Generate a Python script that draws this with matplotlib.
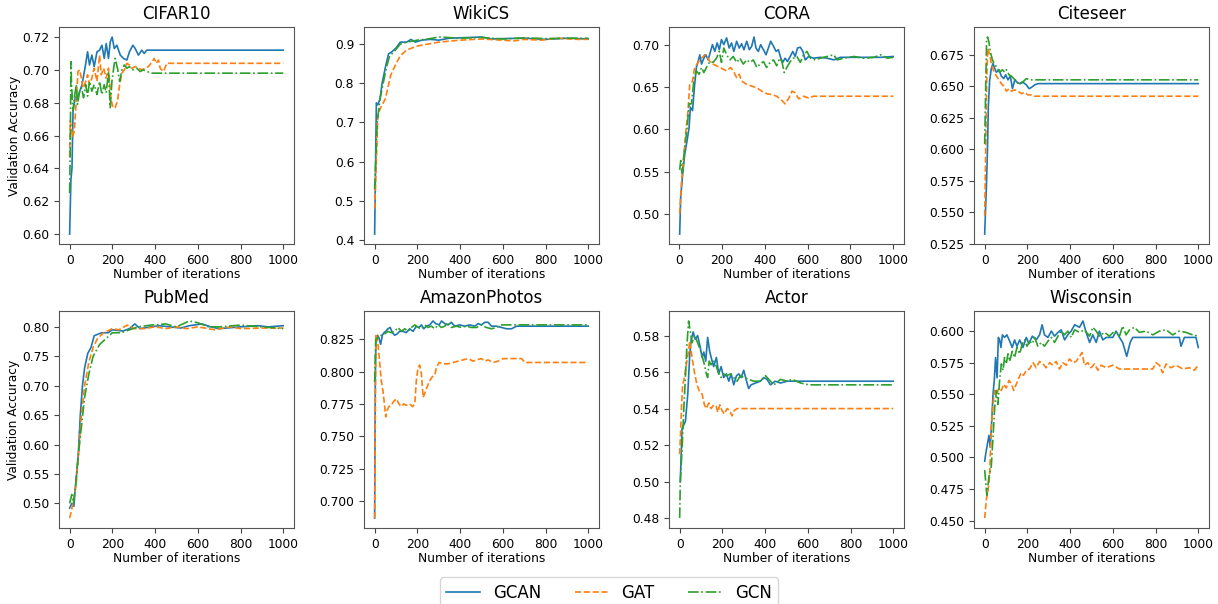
import numpy as np
import matplotlib
matplotlib.use("Agg")
import matplotlib.pyplot as plt
from matplotlib.ticker import MultipleLocator

datasets = ["CIFAR10", "WikiCS", "CORA", "Citeseer",
            "PubMed", "AmazonPhotos", "Actor", "Wisconsin"]
models = ["GCAN", "GAT", "GCN"]
ytick_steps = [0.02, 0.1, 0.05, 0.025, 0.05, 0.025, 0.02, 0.025]

# ---- CIFAR10 ----
cifar_gcan_it = [0, 6, 11, 16, 26, 42, 58, 73, 84, 93, 104, 115, 128, 140, 151, 162, 171, 182, 190, 199, 209, 221, 237, 252, 268, 280, 296, 307, 322, 338, 349, 361, 377, 1000]
cifar_gcan_acc = [0.600, 0.633, 0.640, 0.675, 0.683, 0.685, 0.691, 0.702, 0.711, 0.703, 0.709, 0.702, 0.711, 0.712, 0.715, 0.707, 0.716, 0.707, 0.717, 0.720, 0.713, 0.715, 0.709, 0.707, 0.706, 0.711, 0.715, 0.713, 0.709, 0.712, 0.710, 0.712, 0.712, 0.712]
cifar_gat_it = [0, 3, 8, 14, 22, 31, 39, 47, 55, 62, 73, 84, 93, 104, 115, 128, 140, 148, 159, 171, 182, 193, 202, 213, 224, 234, 245, 256, 268, 280, 291, 307, 322, 338, 354, 369, 386, 396, 405, 416, 424, 439, 455, 470, 1000]
cifar_gat_acc = [0.647, 0.669, 0.665, 0.659, 0.663, 0.681, 0.699, 0.700, 0.695, 0.689, 0.692, 0.697, 0.691, 0.695, 0.701, 0.693, 0.709, 0.697, 0.701, 0.695, 0.701, 0.683, 0.677, 0.677, 0.681, 0.691, 0.698, 0.700, 0.704, 0.703, 0.701, 0.702, 0.701, 0.700, 0.701, 0.702, 0.705, 0.707, 0.704, 0.706, 0.701, 0.699, 0.704, 0.704, 0.704]
cifar_gcn_it = [0, 3, 6, 9, 16, 22, 31, 37, 47, 56, 65, 75, 84, 93, 104, 115, 128, 140, 151, 162, 171, 182, 190, 198, 206, 213, 224, 234, 245, 256, 268, 280, 296, 315, 330, 346, 361, 385, 1000]
cifar_gcn_acc = [0.625, 0.653, 0.705, 0.691, 0.675, 0.683, 0.691, 0.679, 0.687, 0.689, 0.683, 0.691, 0.684, 0.693, 0.687, 0.691, 0.685, 0.693, 0.685, 0.691, 0.686, 0.699, 0.677, 0.693, 0.701, 0.707, 0.701, 0.693, 0.700, 0.703, 0.701, 0.702, 0.700, 0.701, 0.699, 0.700, 0.699, 0.698, 0.698]

# ---- WikiCS ----
wiki_gcan_it = [0, 8, 15, 25, 35, 50, 65, 80, 100, 120, 150, 170, 190, 220, 260, 300, 350, 450, 500, 550, 600, 700, 800, 900, 1000]
wiki_gcan_acc = [0.415, 0.750, 0.745, 0.760, 0.800, 0.840, 0.875, 0.880, 0.890, 0.905, 0.905, 0.912, 0.905, 0.910, 0.912, 0.910, 0.915, 0.917, 0.918, 0.913, 0.914, 0.915, 0.912, 0.915, 0.913]
wiki_gat_it = [0, 8, 15, 30, 50, 75, 100, 120, 150, 200, 250, 300, 400, 500, 600, 650, 700, 780, 850, 950, 1000]
wiki_gat_acc = [0.480, 0.600, 0.720, 0.740, 0.760, 0.820, 0.850, 0.870, 0.885, 0.895, 0.900, 0.905, 0.910, 0.913, 0.910, 0.908, 0.912, 0.910, 0.915, 0.912, 0.912]
wiki_gcn_it = [0, 12, 25, 40, 55, 70, 90, 120, 150, 200, 250, 300, 400, 500, 600, 700, 800, 900, 1000]
wiki_gcn_acc = [0.530, 0.700, 0.760, 0.800, 0.840, 0.870, 0.880, 0.900, 0.905, 0.910, 0.913, 0.918, 0.915, 0.917, 0.913, 0.916, 0.914, 0.915, 0.915]

# ---- CORA ----
cora_gcan_it = [3, 8, 16, 27, 38, 47, 53, 63, 73, 81, 89, 97, 105, 116, 125, 136, 147, 156, 167, 178, 188, 198, 209, 222, 234, 245, 256, 269, 281, 292, 303, 316, 328, 339, 350, 359, 370, 381, 394, 406, 417, 428, 441, 453, 464, 475, 484, 495, 506, 519, 531, 542, 553, 566, 578, 589, 605, 628, 659, 691, 722, 753, 816, 878, 941, 1000]
cora_gcan_acc = [0.476, 0.520, 0.544, 0.571, 0.587, 0.602, 0.626, 0.622, 0.653, 0.673, 0.680, 0.688, 0.677, 0.684, 0.688, 0.682, 0.692, 0.700, 0.692, 0.702, 0.694, 0.706, 0.700, 0.708, 0.696, 0.702, 0.692, 0.704, 0.696, 0.701, 0.694, 0.704, 0.694, 0.698, 0.709, 0.696, 0.692, 0.700, 0.694, 0.688, 0.696, 0.704, 0.698, 0.692, 0.694, 0.684, 0.679, 0.684, 0.680, 0.686, 0.692, 0.686, 0.696, 0.697, 0.692, 0.682, 0.686, 0.684, 0.685, 0.684, 0.682, 0.685, 0.685, 0.685, 0.685, 0.686]
cora_gat_it = [3, 11, 22, 31, 42, 50, 63, 73, 89, 105, 120, 131, 144, 159, 175, 191, 206, 222, 241, 253, 269, 281, 292, 316, 339, 363, 386, 409, 433, 456, 480, 495, 511, 527, 542, 558, 581, 605, 628, 1000]
cora_gat_acc = [0.500, 0.536, 0.567, 0.595, 0.622, 0.653, 0.657, 0.673, 0.679, 0.684, 0.688, 0.686, 0.680, 0.677, 0.675, 0.673, 0.671, 0.669, 0.673, 0.669, 0.661, 0.665, 0.657, 0.653, 0.651, 0.649, 0.645, 0.642, 0.641, 0.639, 0.634, 0.630, 0.636, 0.645, 0.643, 0.636, 0.639, 0.637, 0.639, 0.639]
cora_gcn_it = [3, 8, 14, 22, 31, 38, 47, 58, 69, 81, 94, 105, 116, 128, 144, 159, 175, 188, 198, 209, 222, 238, 253, 269, 284, 300, 316, 331, 347, 363, 378, 394, 409, 425, 441, 456, 469, 480, 491, 503, 519, 534, 550, 566, 581, 597, 613, 636, 659, 691, 722, 738, 769, 816, 863, 909, 941, 972, 1000]
cora_gcn_acc = [0.552, 0.563, 0.548, 0.567, 0.587, 0.602, 0.630, 0.630, 0.657, 0.669, 0.665, 0.673, 0.667, 0.673, 0.680, 0.679, 0.684, 0.692, 0.679, 0.696, 0.688, 0.682, 0.686, 0.679, 0.684, 0.677, 0.682, 0.679, 0.682, 0.673, 0.677, 0.680, 0.673, 0.679, 0.682, 0.675, 0.684, 0.680, 0.667, 0.673, 0.680, 0.684, 0.686, 0.679, 0.688, 0.692, 0.684, 0.682, 0.684, 0.686, 0.688, 0.682, 0.684, 0.686, 0.684, 0.685, 0.688, 0.684, 0.685]

# ---- Citeseer ----
cite_gcan_it = [0, 8, 13, 17, 23, 31, 39, 47, 55, 67, 78, 89, 98, 109, 120, 130, 141, 152, 164, 180, 195, 208, 219, 234, 250, 1000]
cite_gcan_acc = [0.5325, 0.570, 0.599, 0.633, 0.654, 0.664, 0.668, 0.664, 0.661, 0.663, 0.658, 0.656, 0.659, 0.655, 0.658, 0.648, 0.655, 0.653, 0.652, 0.653, 0.651, 0.648, 0.649, 0.651, 0.652, 0.652]
cite_gat_it = [0, 5, 9, 14, 20, 28, 36, 44, 55, 67, 78, 89, 102, 114, 125, 141, 156, 172, 188, 203, 219, 234, 1000]
cite_gat_acc = [0.547, 0.602, 0.651, 0.680, 0.677, 0.671, 0.665, 0.661, 0.658, 0.655, 0.652, 0.650, 0.646, 0.648, 0.646, 0.647, 0.646, 0.644, 0.645, 0.643, 0.643, 0.642, 0.642]
cite_gcn_it = [0, 5, 9, 14, 20, 27, 36, 47, 58, 70, 83, 94, 102, 114, 125, 136, 148, 161, 172, 183, 195, 211, 227, 1000]
cite_gcn_acc = [0.604, 0.651, 0.688, 0.689, 0.685, 0.677, 0.671, 0.667, 0.665, 0.661, 0.663, 0.661, 0.663, 0.659, 0.658, 0.656, 0.654, 0.651, 0.653, 0.654, 0.656, 0.655, 0.655, 0.655]

# ---- PubMed ----
pub_gcan_it = [0, 10, 20, 25, 40, 50, 60, 70, 85, 100, 115, 150, 180, 200, 250, 280, 305, 330, 380, 420, 470, 520, 560, 620, 660, 700, 800, 880, 930, 1000]
pub_gcan_acc = [0.492, 0.500, 0.495, 0.520, 0.580, 0.650, 0.700, 0.730, 0.755, 0.765, 0.785, 0.790, 0.790, 0.795, 0.793, 0.797, 0.805, 0.797, 0.800, 0.802, 0.800, 0.798, 0.802, 0.805, 0.800, 0.797, 0.800, 0.802, 0.800, 0.802]
pub_gat_it = [0, 10, 20, 30, 45, 55, 70, 90, 110, 130, 160, 200, 230, 270, 300, 350, 400, 450, 500, 550, 600, 680, 750, 800, 900, 1000]
pub_gat_acc = [0.475, 0.490, 0.510, 0.530, 0.600, 0.650, 0.700, 0.740, 0.765, 0.780, 0.790, 0.797, 0.795, 0.803, 0.797, 0.797, 0.800, 0.797, 0.800, 0.797, 0.800, 0.795, 0.800, 0.797, 0.798, 0.798]
pub_gcn_it = [0, 10, 18, 28, 40, 55, 70, 90, 110, 140, 170, 200, 240, 280, 320, 380, 450, 500, 560, 600, 650, 700, 800, 900, 1000]
pub_gcn_acc = [0.500, 0.515, 0.500, 0.530, 0.580, 0.630, 0.680, 0.720, 0.750, 0.770, 0.780, 0.790, 0.790, 0.795, 0.800, 0.803, 0.805, 0.800, 0.810, 0.807, 0.800, 0.800, 0.803, 0.800, 0.797]

# ---- AmazonPhotos ----
amz_gcan_it = [0, 3, 6, 13, 20, 28, 36, 44, 52, 62, 73, 83, 94, 105, 117, 133, 148, 164, 180, 195, 208, 219, 230, 242, 258, 273, 286, 302, 313, 328, 344, 359, 375, 398, 422, 445, 469, 484, 500, 516, 531, 547, 570, 594, 617, 641, 664, 1000]
amz_gcan_acc = [0.687, 0.793, 0.824, 0.828, 0.826, 0.821, 0.828, 0.830, 0.831, 0.833, 0.834, 0.830, 0.828, 0.829, 0.831, 0.831, 0.830, 0.833, 0.831, 0.835, 0.834, 0.836, 0.833, 0.835, 0.836, 0.839, 0.837, 0.836, 0.839, 0.837, 0.836, 0.838, 0.835, 0.836, 0.835, 0.836, 0.835, 0.837, 0.836, 0.838, 0.838, 0.835, 0.835, 0.834, 0.833, 0.833, 0.835, 0.835]
amz_gat_it = [0, 3, 6, 11, 17, 23, 31, 39, 47, 52, 58, 67, 78, 89, 102, 114, 125, 136, 148, 164, 177, 188, 195, 203, 211, 219, 227, 234, 245, 258, 270, 281, 289, 302, 320, 344, 367, 391, 414, 438, 461, 477, 500, 516, 531, 555, 578, 602, 633, 664, 688, 703, 1000]
amz_gat_acc = [0.687, 0.768, 0.829, 0.826, 0.819, 0.808, 0.793, 0.785, 0.773, 0.765, 0.770, 0.773, 0.774, 0.777, 0.779, 0.775, 0.773, 0.775, 0.774, 0.775, 0.773, 0.775, 0.793, 0.803, 0.805, 0.798, 0.780, 0.783, 0.788, 0.793, 0.796, 0.797, 0.803, 0.807, 0.806, 0.806, 0.807, 0.808, 0.809, 0.810, 0.808, 0.809, 0.810, 0.808, 0.809, 0.807, 0.808, 0.810, 0.810, 0.810, 0.810, 0.807, 0.807]
amz_gcn_it = [0, 5, 16, 31, 47, 62, 78, 94, 109, 125, 141, 156, 172, 188, 203, 219, 234, 250, 266, 281, 297, 313, 328, 344, 359, 383, 406, 430, 453, 477, 500, 523, 547, 570, 594, 617, 1000]
amz_gcn_acc = [0.792, 0.825, 0.826, 0.828, 0.829, 0.831, 0.830, 0.831, 0.834, 0.831, 0.833, 0.831, 0.834, 0.836, 0.834, 0.833, 0.836, 0.834, 0.835, 0.833, 0.836, 0.834, 0.835, 0.838, 0.834, 0.835, 0.834, 0.835, 0.834, 0.834, 0.836, 0.834, 0.833, 0.834, 0.836, 0.836, 0.836]

# ---- Actor ----
actor_gcan_it = [3, 11, 19, 27, 38, 47, 53, 63, 73, 84, 94, 105, 113, 122, 131, 141, 152, 159, 172, 183, 194, 206, 219, 230, 241, 253, 266, 277, 288, 300, 313, 323, 334, 355, 378, 394, 409, 425, 447, 472, 503, 1000]
actor_gcan_acc = [0.500, 0.529, 0.531, 0.533, 0.548, 0.569, 0.577, 0.582, 0.578, 0.580, 0.575, 0.568, 0.571, 0.566, 0.579, 0.571, 0.566, 0.563, 0.568, 0.559, 0.563, 0.557, 0.559, 0.555, 0.559, 0.553, 0.558, 0.559, 0.557, 0.561, 0.555, 0.551, 0.553, 0.554, 0.555, 0.557, 0.556, 0.553, 0.555, 0.554, 0.555, 0.555]
actor_gat_it = [0, 5, 9, 14, 22, 31, 41, 47, 58, 69, 81, 94, 105, 116, 125, 136, 147, 159, 172, 178, 188, 198, 209, 222, 234, 245, 256, 269, 1000]
actor_gat_acc = [0.515, 0.529, 0.542, 0.553, 0.557, 0.564, 0.571, 0.577, 0.568, 0.560, 0.553, 0.549, 0.548, 0.542, 0.540, 0.543, 0.540, 0.542, 0.541, 0.538, 0.542, 0.539, 0.537, 0.540, 0.539, 0.536, 0.539, 0.540, 0.540]
actor_gcn_it = [0, 3, 11, 19, 27, 34, 42, 50, 58, 69, 81, 94, 105, 116, 125, 131, 138, 147, 159, 172, 183, 194, 206, 219, 238, 253, 269, 284, 300, 323, 347, 378, 402, 425, 441, 472, 503, 527, 566, 605, 628, 1000]
actor_gcn_acc = [0.480, 0.500, 0.517, 0.539, 0.557, 0.575, 0.588, 0.582, 0.576, 0.580, 0.577, 0.573, 0.569, 0.564, 0.559, 0.557, 0.566, 0.564, 0.566, 0.563, 0.559, 0.557, 0.559, 0.558, 0.559, 0.557, 0.555, 0.558, 0.557, 0.556, 0.555, 0.555, 0.558, 0.555, 0.553, 0.556, 0.555, 0.556, 0.554, 0.553, 0.553, 0.553]

# ---- Wisconsin ----
wisc_gcan_it = [0, 5, 20, 26, 33, 39, 45, 51, 58, 64, 70, 76, 83, 93, 104, 117, 129, 140, 151, 164, 179, 195, 207, 223, 241, 257, 269, 280, 296, 312, 327, 343, 358, 374, 389, 405, 421, 444, 460, 475, 491, 506, 522, 537, 553, 569, 600, 615, 631, 646, 665, 681, 693, 911, 919, 935, 989, 1000]
wisc_gcan_acc = [0.497, 0.503, 0.5175, 0.508, 0.529, 0.550, 0.561, 0.579, 0.563, 0.595, 0.593, 0.587, 0.597, 0.595, 0.597, 0.592, 0.587, 0.593, 0.588, 0.593, 0.587, 0.595, 0.590, 0.596, 0.593, 0.597, 0.605, 0.597, 0.595, 0.600, 0.596, 0.599, 0.601, 0.593, 0.597, 0.600, 0.605, 0.603, 0.608, 0.599, 0.591, 0.597, 0.591, 0.600, 0.593, 0.595, 0.595, 0.600, 0.595, 0.591, 0.580, 0.591, 0.595, 0.595, 0.588, 0.595, 0.595, 0.587]
wisc_gat_it = [0, 8, 16, 23, 31, 39, 47, 55, 67, 78, 89, 101, 114, 125, 136, 148, 160, 171, 182, 195, 210, 226, 241, 257, 273, 288, 304, 319, 335, 350, 366, 382, 397, 413, 428, 444, 456, 467, 483, 498, 514, 530, 545, 569, 600, 631, 662, 787, 802, 818, 833, 849, 872, 896, 927, 958, 981, 1000]
wisc_gat_acc = [0.452, 0.467, 0.474, 0.485, 0.524, 0.542, 0.553, 0.550, 0.555, 0.553, 0.558, 0.555, 0.561, 0.558, 0.553, 0.558, 0.563, 0.567, 0.565, 0.569, 0.570, 0.575, 0.571, 0.576, 0.574, 0.571, 0.575, 0.573, 0.576, 0.570, 0.575, 0.573, 0.578, 0.575, 0.576, 0.580, 0.583, 0.573, 0.575, 0.571, 0.574, 0.569, 0.573, 0.571, 0.573, 0.570, 0.570, 0.570, 0.575, 0.573, 0.567, 0.574, 0.571, 0.573, 0.570, 0.571, 0.569, 0.573]
wisc_gcn_it = [0, 10, 20, 31, 39, 47, 55, 62, 70, 78, 86, 93, 101, 109, 117, 129, 140, 151, 164, 176, 187, 198, 210, 223, 234, 249, 265, 280, 296, 312, 327, 343, 358, 374, 389, 405, 421, 444, 467, 491, 506, 522, 537, 561, 584, 607, 631, 646, 662, 678, 701, 724, 755, 787, 818, 849, 880, 911, 942, 974, 1000]
wisc_gcn_acc = [0.490, 0.470, 0.485, 0.493, 0.516, 0.540, 0.553, 0.542, 0.561, 0.574, 0.569, 0.579, 0.574, 0.582, 0.576, 0.584, 0.579, 0.587, 0.582, 0.590, 0.593, 0.588, 0.592, 0.590, 0.595, 0.588, 0.591, 0.588, 0.592, 0.595, 0.591, 0.596, 0.600, 0.597, 0.600, 0.595, 0.601, 0.599, 0.601, 0.596, 0.603, 0.600, 0.596, 0.599, 0.596, 0.600, 0.596, 0.604, 0.597, 0.601, 0.603, 0.599, 0.600, 0.597, 0.600, 0.601, 0.597, 0.600, 0.599, 0.597, 0.596]

series = [
    [(cifar_gcan_it, cifar_gcan_acc), (cifar_gat_it, cifar_gat_acc), (cifar_gcn_it, cifar_gcn_acc)],
    [(wiki_gcan_it, wiki_gcan_acc), (wiki_gat_it, wiki_gat_acc), (wiki_gcn_it, wiki_gcn_acc)],
    [(cora_gcan_it, cora_gcan_acc), (cora_gat_it, cora_gat_acc), (cora_gcn_it, cora_gcn_acc)],
    [(cite_gcan_it, cite_gcan_acc), (cite_gat_it, cite_gat_acc), (cite_gcn_it, cite_gcn_acc)],
    [(pub_gcan_it, pub_gcan_acc), (pub_gat_it, pub_gat_acc), (pub_gcn_it, pub_gcn_acc)],
    [(amz_gcan_it, amz_gcan_acc), (amz_gat_it, amz_gat_acc), (amz_gcn_it, amz_gcn_acc)],
    [(actor_gcan_it, actor_gcan_acc), (actor_gat_it, actor_gat_acc), (actor_gcn_it, actor_gcn_acc)],
    [(wisc_gcan_it, wisc_gcan_acc), (wisc_gat_it, wisc_gat_acc), (wisc_gcn_it, wisc_gcn_acc)],
]

colors = ["#1f77b4", "#ff7f0e", "#2ca02c"]
styles = ["-", "--", "-."]

fig, axes = plt.subplots(2, 4, figsize=(12.18, 6.04), dpi=100)
fig.subplots_adjust(left=0.0484, right=0.9926, top=0.955, bottom=0.126,
                    wspace=0.298, hspace=0.31)

for i, ax in enumerate(axes.flat):
    for j in range(3):
        x, y = series[i][j]
        ax.plot(x, y, color=colors[j], linestyle=styles[j], linewidth=1.2,
                label=models[j])
    ax.set_title(datasets[i], fontsize=12)
    ax.set_xlabel("Number of iterations", fontsize=8.8, labelpad=1)
    ax.tick_params(labelsize=8.8, color="#444444")
    ax.set_xticks([0, 200, 400, 600, 800, 1000])
    ax.yaxis.set_major_locator(MultipleLocator(ytick_steps[i]))
    for sp in ax.spines.values():
        sp.set_color("#555555")
    if i % 4 == 0:
        ax.set_ylabel("Validation Accuracy", fontsize=8.8, labelpad=1)

handles, labels = axes[0, 0].get_legend_handles_labels()
fig.legend(handles, labels, loc="upper center", bbox_to_anchor=(0.5, 0.058),
           ncol=3, fontsize=12)

plt.savefig("out.png", dpi=100)
